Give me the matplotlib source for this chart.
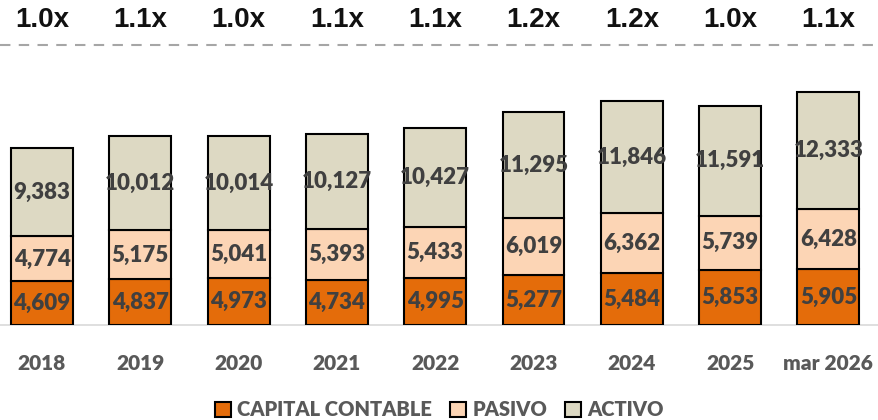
import matplotlib.pyplot as plt
import matplotlib.transforms as mtransforms
import numpy as np

categories = ['2018', '2019', '2020', '2021', '2022', '2023', '2024', '2025', 'mar 2026']
capital = [4609, 4837, 4973, 4734, 4995, 5277, 5484, 5853, 5905]
pasivo = [4774, 5175, 5041, 5393, 5433, 6019, 6362, 5739, 6428]
activo = [9383, 10012, 10014, 10127, 10427, 11295, 11846, 11591, 12333]
ratios = ['1.0x', '1.1x', '1.0x', '1.1x', '1.1x', '1.2x', '1.2x', '1.0x', '1.1x']

colors = ['#E46C0A', '#FCD5B5', '#DDD9C3']
names = ['CAPITAL CONTABLE', 'PASIVO', 'ACTIVO']
font = 'Lato'

W, H = 879, 420
fig = plt.figure(figsize=(W / 100, H / 100), dpi=100)
base_px = 325
ax = fig.add_axes([0, (H - base_px) / H, 1, base_px / H])

x = np.arange(len(categories))
cap = np.array(capital)
pas = np.array(pasivo)
act = np.array(activo)

series = [cap, pas, act]
bottoms = [np.zeros(len(x)), cap, cap + pas]
for vals, bot, col, name in zip(series, bottoms, colors, names):
    bars = ax.bar(x, vals, 0.63, bottom=bot, color=col, edgecolor='black',
                  linewidth=1.5, label=name, zorder=3)
    ax.bar_label(bars, labels=[f'{v:,}' for v in vals], label_type='center',
                 color='#404040', fontsize=16, fontweight='heavy', family=font)

ax.set_xlim(-42 / 98.3, (W - 42) / 98.3)
ax.set_ylim(0, base_px / 0.00944)
for s in ['top', 'right', 'left']:
    ax.spines[s].set_visible(False)
ax.spines['bottom'].set_color('#D9D9D9')
ax.spines['bottom'].set_linewidth(1.2)
ax.set_yticks([])
ax.set_xticks(x, categories)
ax.tick_params(axis='x', length=0, pad=21)
for t in ax.get_xticklabels():
    t.set_family(font)
    t.set_fontweight('heavy')
    t.set_fontsize(15)
    t.set_color('#595959')

# ratio labels across the top
trans = mtransforms.blended_transform_factory(ax.transData, fig.transFigure)
for xi, r in zip(x, ratios):
    ax.text(xi, 1 - 20 / H, r, transform=trans, ha='center', va='center',
            fontsize=20, fontweight='bold', family='Liberation Sans',
            color='#111111', clip_on=False)
fig.add_artist(plt.Line2D([0, 1], [1 - 45 / H, 1 - 45 / H], transform=fig.transFigure,
                          color='#A6A6A6', linestyle=(0, (5, 4)), linewidth=1.5))

leg = fig.legend(loc='center', bbox_to_anchor=(0.5, (H - 410) / H), ncol=3,
                 frameon=False, handlelength=0.8, handleheight=0.8,
                 handletextpad=0.3, columnspacing=0.9,
                 prop={'family': font, 'weight': 'heavy', 'size': 14.5})
for t in leg.get_texts():
    t.set_color('#595959')

fig.savefig('out.png', dpi=100)
